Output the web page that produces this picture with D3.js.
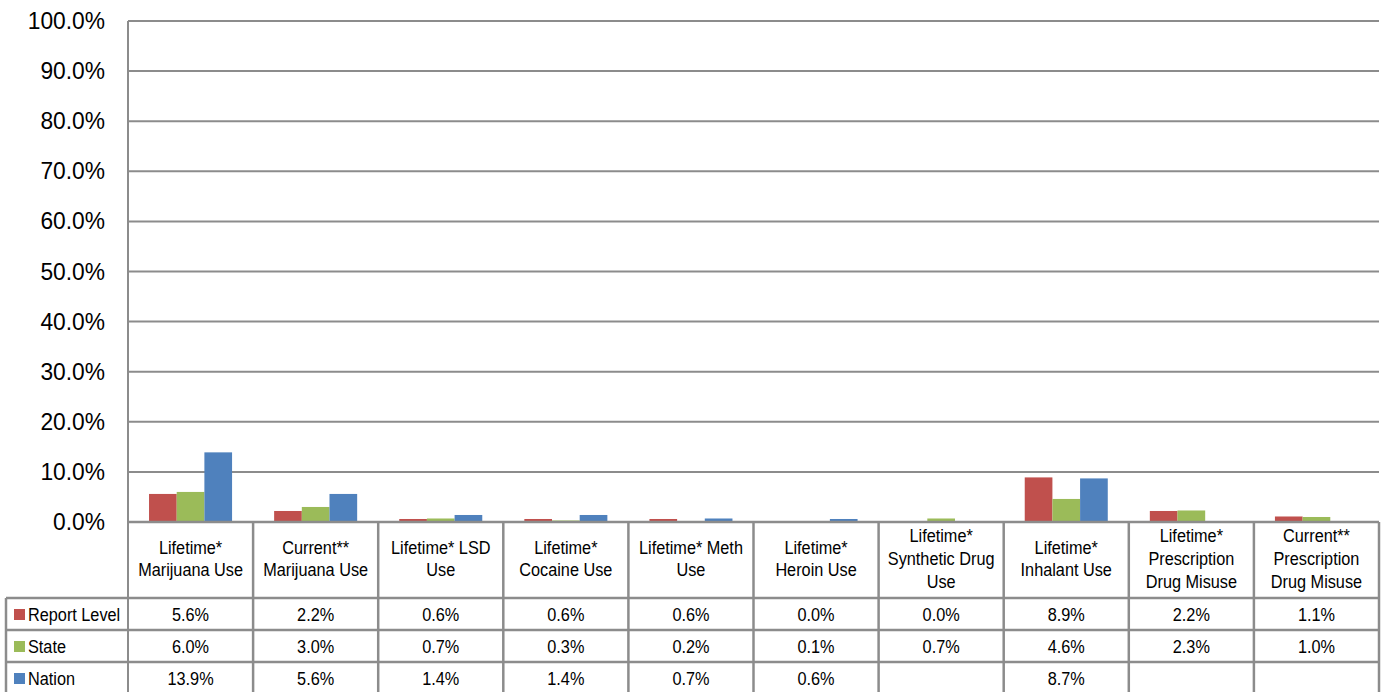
<!DOCTYPE html>
<html>
<head>
<meta charset="utf-8">
<script src="https://cdn.jsdelivr.net/npm/d3@7"></script>
<style>
  body { margin: 0; background: #fff; }
  svg { display: block; font-family: "Liberation Sans Narrow", "Arial Narrow", "Liberation Sans", Arial, sans-serif; }
</style>
</head>
<body>
<div id="chart"></div>
<script>
const categories = [
  "Lifetime*\nMarijuana Use",
  "Current**\nMarijuana Use",
  "Lifetime* LSD\nUse",
  "Lifetime*\nCocaine Use",
  "Lifetime* Meth\nUse",
  "Lifetime*\nHeroin Use",
  "Lifetime*\nSynthetic Drug\nUse",
  "Lifetime*\nInhalant Use",
  "Lifetime*\nPrescription\nDrug Misuse",
  "Current**\nPrescription\nDrug Misuse"
];
const seriesNames = ["Report Level", "State", "Nation"];
const reportLevel = [5.6, 2.2, 0.6, 0.6, 0.6, 0.0, 0.0, 8.9, 2.2, 1.1];
const state = [6.0, 3.0, 0.7, 0.3, 0.2, 0.1, 0.7, 4.6, 2.3, 1.0];
const nation = [13.9, 5.6, 1.4, 1.4, 0.7, 0.6, null, 8.7, null, null];
const yTicks = [0, 10, 20, 30, 40, 50, 60, 70, 80, 90, 100];
const colors = ["#C0504D", "#9BBB59", "#4F81BD"];

const W = 1385, H = 692;
const plotLeft = 128, plotRight = 1379, plotTop = 21, plotBottom = 522;
const headerBottom = 598, rowH = 32, legendLeft = 6;
const gridColor = "#8c8c8c";
const narrow = 0.88; // squeeze to look like Arial Narrow

const svg = d3.select("#chart").append("svg")
  .attr("width", W).attr("height", H);

const x0 = d3.scaleBand()
  .domain(d3.range(categories.length))
  .range([plotLeft, plotRight]);

const x1 = d3.scaleBand()
  .domain(seriesNames)
  .range([0, x0.bandwidth()])
  .paddingOuter(0.76);

const y = d3.scaleLinear()
  .domain([0, 100])
  .range([plotBottom, plotTop]);

// gridlines
svg.append("g")
  .selectAll("line")
  .data(yTicks)
  .join("line")
  .attr("x1", plotLeft).attr("x2", plotRight)
  .attr("y1", d => y(d)).attr("y2", d => y(d))
  .attr("stroke", gridColor).attr("stroke-width", 2);

// y axis labels
svg.append("g")
  .selectAll("text")
  .data(yTicks)
  .join("text")
  .attr("transform", d => `translate(105,${y(d) + 8}) scale(0.95,1)`)
  .attr("text-anchor", "end")
  .style("font-size", "24px")
  .attr("fill", "#000")
  .text(d => d3.format(".1f")(d) + "%");

// bars
const values = [reportLevel, state, nation];
const barData = [];
categories.forEach((c, i) => {
  seriesNames.forEach((s, j) => {
    if (values[j][i] != null) barData.push({ i, s, v: values[j][i], color: colors[j] });
  });
});

svg.append("g")
  .selectAll("rect")
  .data(barData)
  .join("rect")
  .attr("x", d => x0(d.i) + x1(d.s))
  .attr("y", d => y(d.v))
  .attr("width", x1.bandwidth())
  .attr("height", d => y(0) - y(d.v))
  .attr("fill", d => d.color);

// data table
const table = svg.append("g");

table.append("line")
  .attr("x1", plotLeft).attr("x2", plotRight)
  .attr("y1", plotBottom).attr("y2", plotBottom)
  .attr("stroke", gridColor).attr("stroke-width", 2.5);
[headerBottom, headerBottom + rowH, headerBottom + rowH * 2].forEach(yy => {
  table.append("line")
    .attr("x1", legendLeft).attr("x2", plotRight)
    .attr("y1", yy).attr("y2", yy)
    .attr("stroke", gridColor).attr("stroke-width", 2.5);
});

table.append("line")
  .attr("x1", plotLeft).attr("x2", plotLeft)
  .attr("y1", plotTop).attr("y2", H)
  .attr("stroke", gridColor).attr("stroke-width", 2);
table.append("line")
  .attr("x1", legendLeft).attr("x2", legendLeft)
  .attr("y1", headerBottom).attr("y2", H)
  .attr("stroke", gridColor).attr("stroke-width", 2.5);
table.selectAll(".vline")
  .data(d3.range(1, categories.length + 1))
  .join("line")
  .attr("x1", i => i < categories.length ? x0(i) : plotRight)
  .attr("x2", i => i < categories.length ? x0(i) : plotRight)
  .attr("y1", plotBottom).attr("y2", H)
  .attr("stroke", gridColor).attr("stroke-width", 2.5);

// header labels
table.selectAll(".hdr")
  .data(categories)
  .join("text")
  .attr("class", "hdr")
  .attr("text-anchor", "middle")
  .style("font-size", "18.5px")
  .attr("fill", "#000")
  .each(function (d, i) {
    const lines = d.split("\n");
    const lh = 23;
    const cy = 565;
    const start = cy - (lines.length - 1) * lh / 2;
    d3.select(this)
      .attr("transform", `translate(${x0(i) + x0.bandwidth() / 2},${start}) scale(${narrow},1)`)
      .selectAll("tspan")
      .data(lines)
      .join("tspan")
      .attr("x", 0)
      .attr("y", (l, k) => k * lh)
      .text(l => l);
  });

// rows
seriesNames.forEach((s, j) => {
  const rowTop = headerBottom + rowH * j;
  const cy = rowTop + rowH / 2;
  table.append("rect")
    .attr("x", legendLeft + 8).attr("y", cy - 5)
    .attr("width", 11).attr("height", 11)
    .attr("fill", colors[j]);
  table.append("text")
    .attr("transform", `translate(${legendLeft + 22},${cy + 7}) scale(${narrow},1)`)
    .style("font-size", "18.5px")
    .attr("fill", "#000")
    .text(s);
  table.selectAll(".val" + j)
    .data(values[j])
    .join("text")
    .attr("transform", (d, i) => `translate(${x0(i) + x0.bandwidth() / 2},${cy + 7}) scale(${narrow},1)`)
    .attr("text-anchor", "middle")
    .style("font-size", "18.5px")
    .attr("fill", "#000")
    .text(d => d == null ? "" : d3.format(".1f")(d) + "%");
});
</script>
</body>
</html>
